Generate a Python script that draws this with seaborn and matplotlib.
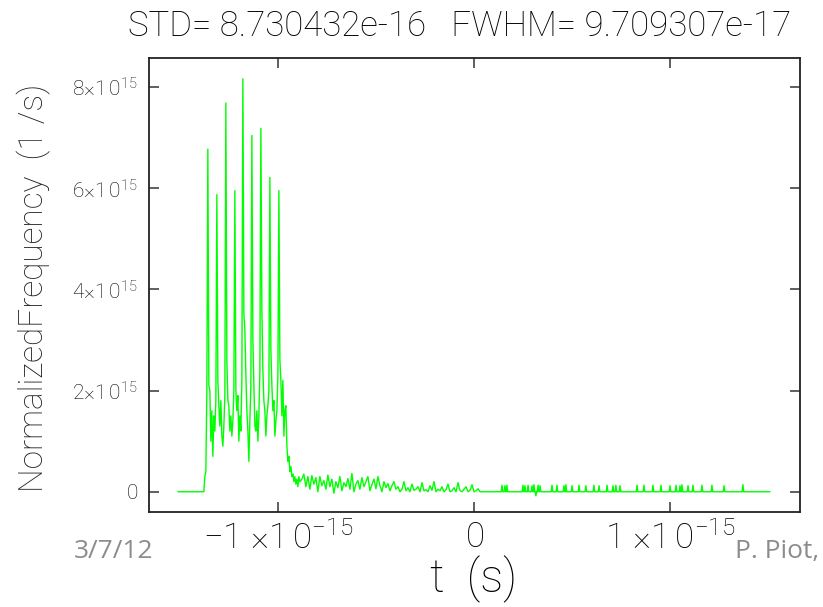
import numpy as np
import pandas as pd
import matplotlib
matplotlib.use("Agg")
import matplotlib.pyplot as plt
import seaborn as sns

# ---- data (t in units of 1e-15 s, frequency in units of 1e15 1/s) ----
t_flat = [-1.510, -1.383]
y_flat = [0.0, 0.0]

# bunch region, ~1 px sampling
t_bunch_start, t_bunch_end = -1.378, -0.888
y_bunch = [
    0.0, 0.3, 0.4, 2.0, 6.77, 2.1, 2.0, 1.0, 1.6, 0.7,
    1.5, 1.2, 1.8, 5.87, 2.2, 1.7, 1.3, 1.8, 1.1, 0.9,
    1.3, 1.9, 7.68, 2.6, 1.8, 1.7, 1.2, 1.5, 1.1, 1.4,
    2.0, 5.95, 2.0, 1.6, 1.9, 1.0, 1.5, 1.2, 2.2, 8.16,
    3.5, 3.2, 2.3, 1.6, 1.2, 0.6, 1.4, 2.1, 7.04, 3.0,
    2.1, 1.3, 1.2, 1.6, 1.0, 1.5, 2.4, 7.18, 3.6, 2.4,
    1.8, 1.6, 1.1, 1.5, 1.7, 2.0, 6.21, 2.8, 2.1, 1.6,
    1.8, 1.1, 1.4, 1.6, 2.3, 5.95, 2.6, 2.2, 1.5, 2.2,
    1.1, 1.6, 1.7, 0.9, 0.6, 0.7, 0.4, 0.5, 0.3, 0.35,
    0.2, 0.3, 0.15, 0.25, 0.1, 0.3, 0.2,
]

# noisy tail, ~2 px sampling
t_tail_start, t_tail_end = -0.878, 0.031
y_tail = [
    0.25, 0.35, 0.10, 0.30, 0.05, 0.32, 0.15, 0.28, 0.00, 0.30,
    0.12, 0.22, 0.05, 0.33, 0.10, 0.25, -0.03, 0.20, 0.08, 0.30,
    0.02, 0.18, 0.10, 0.26, 0.05, 0.36, 0.00, 0.15, 0.22, 0.05,
    0.28, 0.10, 0.20, 0.30, 0.02, 0.14, 0.25, 0.06, 0.30, 0.12,
    0.00, 0.20, 0.08, 0.16, 0.02, 0.12, 0.20, 0.05, 0.10, 0.00,
    0.05, 0.20, 0.02, 0.08, 0.00, 0.15, 0.03, 0.05, 0.10, 0.00,
    0.18, 0.02, 0.04, 0.00, 0.12, 0.03, 0.20, 0.00, 0.05, 0.02,
    0.10, 0.00, 0.04, 0.15, 0.00, 0.02, 0.08, 0.00, 0.18, 0.02,
    0.00, 0.05, 0.10, 0.00, 0.03, 0.14, 0.00, 0.02, 0.06, 0.00,
]

# sparse spikes in the far tail
t_spikes = [0.143, 0.158, 0.168, 0.250, 0.260, 0.276, 0.296, 0.306, 0.316, 0.327,
            0.337, 0.398, 0.423, 0.459, 0.469, 0.500, 0.536, 0.571, 0.612, 0.638,
            0.679, 0.709, 0.724, 0.745, 0.832, 0.867, 0.913, 0.954, 1.000, 1.031,
            1.051, 1.061, 1.092, 1.117, 1.163, 1.214, 1.276, 1.372]
h_spikes = [0.13, 0.12, 0.13, 0.13, 0.12, 0.13, 0.12, 0.14, -0.08, 0.13,
            0.12, 0.13, 0.13, 0.12, 0.14, 0.12, 0.13, 0.12, 0.13, 0.12,
            0.13, 0.12, 0.13, 0.12, 0.13, 0.13, 0.13, 0.13, 0.12, 0.13,
            0.12, 0.14, 0.12, 0.13, 0.13, 0.13, 0.12, 0.14]
t_far_end = 1.510

x_ticks = [-1.0, 0.0, 1.0]
x_tick_labels = [r"$-1\;{\times}1\,0^{-15}$", r"$0$", r"$1\;{\times}1\,0^{-15}$"]
y_ticks = [0, 2, 4, 6, 8]
y_tick_labels = ["0", r"$2{\times}1\,0^{15}$", r"$4{\times}1\,0^{15}$",
                 r"$6{\times}1\,0^{15}$", r"$8{\times}1\,0^{15}$"]

title_text = "STD= 8.730432e-16   FWHM= 9.709307e-17"
xlabel_text = "t  (s)"
ylabel_text = "NormalizedFrequency  (1 /s)"

# ---- assemble ----
t_b = np.linspace(t_bunch_start, t_bunch_end, len(y_bunch))
t_c = np.linspace(t_tail_start, t_tail_end, len(y_tail))
t_d, y_d = [t_tail_end + 0.005], [0.0]
for ts, hs in zip(t_spikes, h_spikes):
    t_d += [ts - 0.004, ts, ts + 0.004]
    y_d += [0.0, hs, 0.0]
t_d.append(t_far_end)
y_d.append(0.0)

t_all = np.concatenate([t_flat, t_b, t_c, t_d]) * 1e-15
y_all = np.concatenate([y_flat, y_bunch, y_tail, y_d]) * 1e15
df = pd.DataFrame({"t": t_all, "f": y_all})

# ---- plot ----
sns.set_theme(style="white")
plt.rcParams["font.family"] = ["Roboto", "DejaVu Sans"]
plt.rcParams["font.weight"] = "light"
plt.rcParams["mathtext.fontset"] = "custom"
plt.rcParams["mathtext.rm"] = "Roboto:light"
plt.rcParams["mathtext.it"] = "Roboto:light"
plt.rcParams["mathtext.bf"] = "Roboto"

fig = plt.figure(figsize=(8.23, 6.07), dpi=100)
ax = fig.add_axes([0.181, 0.1565, 0.791, 0.748])
sns.lineplot(data=df, x="t", y="f", ax=ax, color="#00ff00", linewidth=1.0,
             sort=False, estimator=None)

ax.set_xlim(-1.658e-15, 1.663e-15)
ax.set_ylim(-0.40e15, 8.57e15)
ax.set_xticks([v * 1e-15 for v in x_ticks])
ax.set_xticklabels(x_tick_labels, fontsize=25, color="#000000")
ax.set_yticks([v * 1e15 for v in y_ticks])
ax.set_yticklabels(y_tick_labels, fontsize=15, color="#000000")
ax.tick_params(axis="both", direction="in", length=7, width=1.2, color="#444444",
               top=True, right=True, bottom=True, left=True)
ax.tick_params(axis="x", pad=6)
ax.tick_params(axis="y", pad=8)
for s in ax.spines.values():
    s.set_color("#222222")
    s.set_linewidth(1.3)
ax.set_xlabel("")
ax.set_ylabel("")

fig.text(0.559, 0.956, title_text, ha="center", va="center", fontsize=25,
         color="#000000")
fig.text(0.576, 0.045, xlabel_text, ha="center", va="center", fontsize=33,
         color="#000000")
fig.text(0.041, 0.525, ylabel_text, ha="center", va="center", rotation=90,
         fontsize=24, color="#222222")
fig.text(0.138, 0.092, "3/7/12", ha="center", va="center", fontsize=19,
         color="#8c8c8c", family="Open Sans", weight="normal")
fig.text(0.893, 0.092, "P. Piot,", ha="left", va="center", fontsize=19,
         color="#8c8c8c", family="Open Sans", weight="normal")

fig.savefig("out.png", dpi=100)
